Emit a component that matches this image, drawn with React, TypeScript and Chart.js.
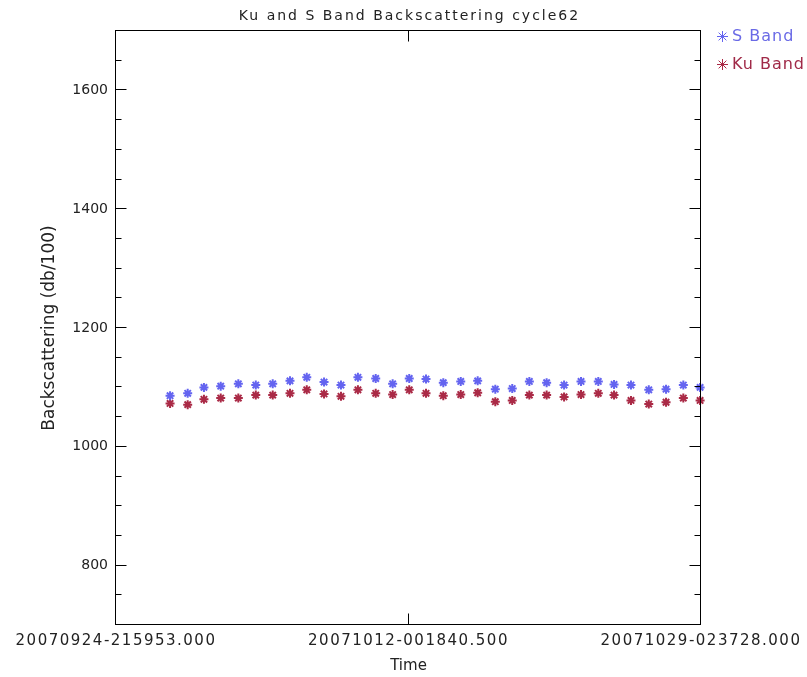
import React, { useEffect, useRef } from "react";
import { Chart, registerables } from "chart.js";

Chart.register(...registerables);

const FONT = "'DejaVu Sans'";
const chartTitle = "Ku and S Band Backscattering cycle62";
const xAxisTitle = "Time";
const yAxisTitle = "Backscattering (db/100)";

// x axis: days since 20070924-215953
const xTickDays = [0, 17.0964, 34.1928];
const xTickLabels = ["20070924-215953.000", "20071012-001840.500", "20071029-023728.000"];

const yTickValues = [800, 1000, 1200, 1400, 1600];
const yMin = 700;
const yMax = 1700;
const yMinorStep = 50;

const sampleDays = [
  3.16, 4.19, 5.14, 6.12, 7.15, 8.17, 9.16, 10.17, 11.15, 12.16, 13.15, 14.14, 15.18, 16.17, 17.14, 18.12,
  19.13, 20.15, 21.14, 22.17, 23.16, 24.16, 25.17, 26.19, 27.18, 28.19, 29.11, 30.1, 31.14, 32.15, 33.16, 34.14,
];

const sBand = [
  1086, 1090, 1100, 1102, 1106, 1104, 1106, 1111, 1117, 1109, 1104, 1117, 1115, 1106, 1115, 1114,
  1108, 1110, 1111, 1097, 1098, 1110, 1108, 1104, 1110, 1110, 1105, 1104, 1096, 1097, 1104, 1100,
];

const kuBand = [
  1073, 1071, 1080, 1082, 1082, 1087, 1087, 1090, 1096, 1089, 1085, 1096, 1090, 1088, 1096, 1090,
  1086, 1088, 1091, 1076, 1078, 1087, 1087, 1084, 1088, 1090, 1087, 1078, 1072, 1075, 1082, 1078,
];

const seriesNames = ["S Band", "Ku Band"];
const seriesColors = ["#6464f0", "#aa2a46"];
const legendTextColors = ["#6a6ae6", "#a02a48"];

const idlPlugin = {
  id: "idlFrame",
  afterDatasetsDraw(chart: any) {
    (chart.ctx as any).letterSpacing = "1.5px";
  },
  afterDraw(chart: any) {
    const ctx = chart.ctx as any;
    ctx.letterSpacing = "0px";
    const { left, right, top, bottom } = chart.chartArea;
    const L = Math.round(left) - 0.5;
    const R = Math.round(right) - 0.5;
    const T = Math.round(top) - 0.5;
    const B = Math.round(bottom) - 0.5;
    ctx.save();
    ctx.strokeStyle = "#000";
    ctx.lineWidth = 1;
    ctx.strokeRect(L, T, R - L, B - T);

    const ys = chart.scales.y;
    const xs = chart.scales.x;
    ctx.beginPath();
    for (let v = yMin; v <= yMax; v += yMinorStep) {
      const len = yTickValues.includes(v) ? 11 : 6;
      const py = Math.round(ys.getPixelForValue(v)) - 0.5;
      ctx.moveTo(L, py);
      ctx.lineTo(L + len, py);
      ctx.moveTo(R, py);
      ctx.lineTo(R - len, py);
    }
    xTickDays.forEach((d) => {
      const px = Math.round(xs.getPixelForValue(d)) - 0.5;
      ctx.moveTo(px, B);
      ctx.lineTo(px, B - 11);
      ctx.moveTo(px, T);
      ctx.lineTo(px, T + 11);
    });
    ctx.stroke();

    // title
    ctx.letterSpacing = "2px";
    ctx.fillStyle = "#222";
    ctx.font = `14px ${FONT}`;
    ctx.textAlign = "center";
    ctx.textBaseline = "middle";
    ctx.fillText(chartTitle, (left + right) / 2 + 1, 16.5);

    // legend
    ctx.letterSpacing = "1px";
    ctx.font = `16px ${FONT}`;
    ctx.textAlign = "left";
    chart.data.datasets.forEach((ds: any, i: number) => {
      const cy = 36.5 + i * 28;
      const cx = right + 21.5;
      const r = 5.5;
      ctx.strokeStyle = ds.borderColor;
      ctx.lineWidth = 1;
      ctx.beginPath();
      ctx.moveTo(cx - r, cy);
      ctx.lineTo(cx + r, cy);
      ctx.moveTo(cx, cy - r);
      ctx.lineTo(cx, cy + r);
      const d = r * Math.SQRT1_2;
      ctx.moveTo(cx - d, cy - d);
      ctx.lineTo(cx + d, cy + d);
      ctx.moveTo(cx - d, cy + d);
      ctx.lineTo(cx + d, cy - d);
      ctx.stroke();
      ctx.fillStyle = legendTextColors[i];
      ctx.fillText(ds.label, right + 31, cy + 0.5);
    });
    ctx.letterSpacing = "0px";
    ctx.restore();
  },
};

export default function App() {
  const ref = useRef<HTMLCanvasElement | null>(null);

  useEffect(() => {
    if (!ref.current) return;
    const series = [sBand, kuBand];
    const chart = new Chart(ref.current, {
      type: "scatter",
      data: {
        datasets: series.map((vals, i) => ({
          label: seriesNames[i],
          data: vals.map((v, j) => ({ x: sampleDays[j], y: v })),
          borderColor: seriesColors[i],
          backgroundColor: seriesColors[i],
          pointStyle: "star",
          pointRadius: 4.5,
          pointBorderWidth: 2,
          showLine: false,
          clip: false as any,
        })),
      },
      options: {
        animation: false,
        responsive: false,
        devicePixelRatio: 1,
        layout: { padding: { top: 31, right: 106, bottom: 0, left: 0 } },
        plugins: {
          legend: { display: false },
          title: { display: false },
          tooltip: { enabled: false },
        },
        scales: {
          x: {
            type: "linear",
            min: xTickDays[0],
            max: xTickDays[xTickDays.length - 1],
            afterBuildTicks: (s: any) => {
              s.ticks = xTickDays.map((v) => ({ value: v }));
            },
            afterFit: (s: any) => {
              s.height = 52;
            },
            grid: { display: false, drawTicks: false },
            border: { display: false },
            ticks: {
              autoSkip: false,
              maxRotation: 0,
              padding: 7,
              z: 1,
              color: "#222",
              font: { family: FONT, size: 15 },
              callback: (v: any) => {
                const i = xTickDays.findIndex((d) => Math.abs(d - Number(v)) < 1e-6);
                return i >= 0 ? xTickLabels[i] : "";
              },
            },
            title: {
              display: true,
              text: xAxisTitle,
              color: "#222",
              font: { family: FONT, size: 15 },
              padding: { top: 0, bottom: 2 },
            },
          },
          y: {
            type: "linear",
            min: yMin,
            max: yMax,
            afterBuildTicks: (s: any) => {
              s.ticks = yTickValues.map((v) => ({ value: v }));
            },
            afterFit: (s: any) => {
              s.width = 116;
            },
            grid: { display: false, drawTicks: false },
            border: { display: false },
            ticks: {
              padding: 8,
              color: "#222",
              font: { family: FONT, size: 14 },
              callback: (v: any) => String(v),
            },
            title: {
              display: true,
              text: yAxisTitle,
              color: "#222",
              font: { family: FONT, size: 17 },
              padding: { top: 39, bottom: 0 },
            },
          },
        },
      },
      plugins: [idlPlugin],
    });
    return () => chart.destroy();
  }, []);

  return (
    <div style={{ position: "fixed", left: 0, top: 0, width: 807, height: 677, background: "#fff" }}>
      <canvas ref={ref} width={807} height={677} />
    </div>
  );
}
